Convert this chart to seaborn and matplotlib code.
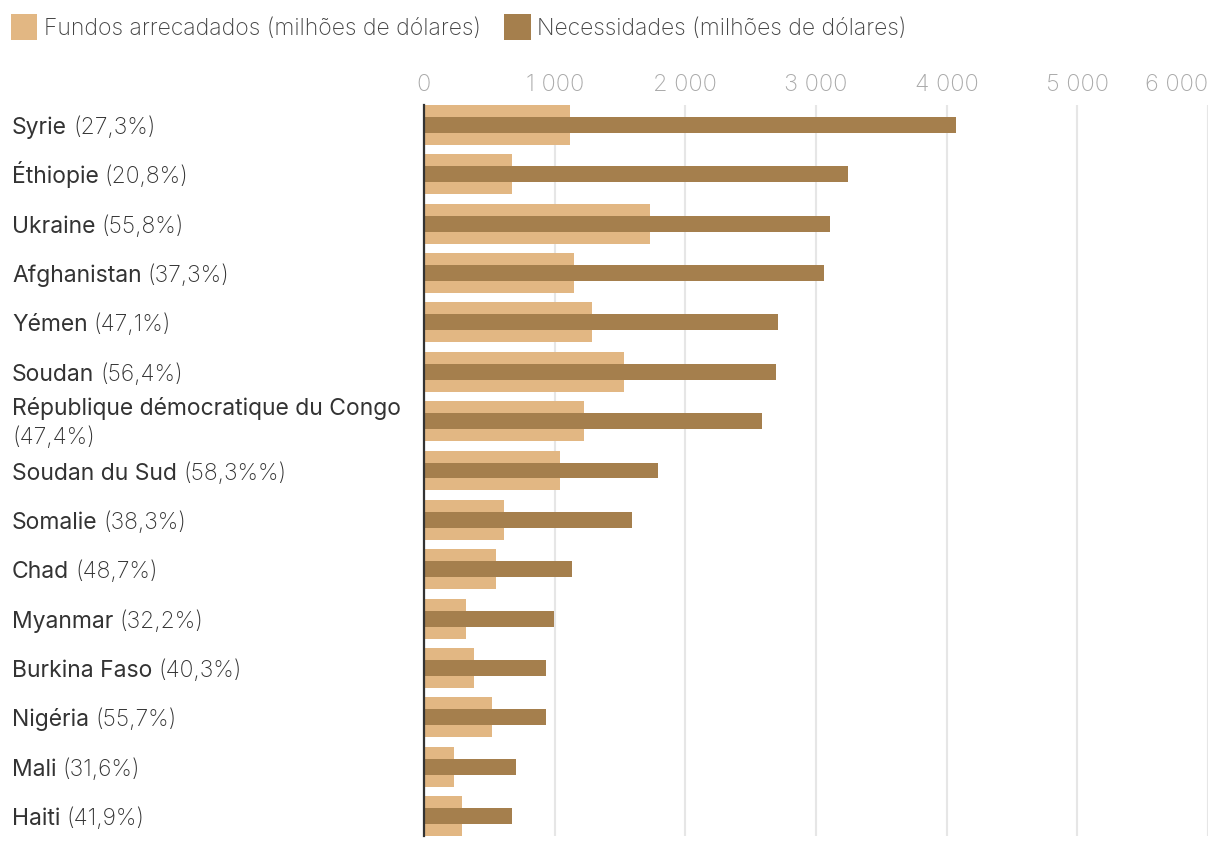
import pandas as pd
import seaborn as sns
import matplotlib.pyplot as plt
from matplotlib.patches import Patch

countries = ["Syrie", "Éthiopie", "Ukraine", "Afghanistan", "Yémen", "Soudan",
             "République démocratique du Congo", "Soudan du Sud", "Somalie",
             "Chad", "Myanmar", "Burkina Faso", "Nigéria", "Mali", "Haiti"]
pct_labels = ["(27,3%)", "(20,8%)", "(55,8%)", "(37,3%)", "(47,1%)", "(56,4%)",
              "(47,4%)", "(58,3%%)", "(38,3%)", "(48,7%)", "(32,2%)", "(40,3%)",
              "(55,7%)", "(31,6%)", "(41,9%)"]
funds = [1117, 673, 1730, 1148, 1286, 1531, 1224, 1041, 612, 551, 321, 383, 520, 230, 291]
needs = [4071, 3245, 3107, 3061, 2709, 2694, 2587, 1791, 1592, 1133, 995, 934, 934, 704, 673]
tick_values = [0, 1000, 2000, 3000, 4000, 5000, 6000]
tick_labels = ["0", "1 000", "2 000", "3 000", "4 000", "5 000", "6 000"]
legend_labels = ["Fundos arrecadados (milhões de dólares)", "Necessidades (milhões de dólares)"]

light = "#E2B783"
dark = "#A57F4D"
W, H = 1220, 848

sns.set_style("white")
plt.rcParams['font.family'] = ['Inter', 'DejaVu Sans']

df = pd.DataFrame({"country": countries, "funds": funds, "needs": needs})

fig = plt.figure(figsize=(W / 100, H / 100), dpi=100)
ax = fig.add_axes([424 / W, 12 / H, 784 / W, 731 / H])

sns.barplot(data=df, x="funds", y="country", color=light, width=0.81,
            saturation=1, linewidth=0, ax=ax, zorder=2)
sns.barplot(data=df, x="needs", y="country", color=dark, width=0.324,
            saturation=1, linewidth=0, ax=ax, zorder=3)

ax.set_xlim(0, 6000)
ax.set_ylim(len(countries) - 0.595, -0.405)
ax.set_xlabel("")
ax.set_ylabel("")
ax.set_yticks([])
ax.xaxis.tick_top()
ax.set_xticks(tick_values)
ax.set_xticklabels(tick_labels, fontsize=17, color="#aaaaaa", fontweight="light")
ax.get_xticklabels()[-1].set_ha("right")
ax.tick_params(axis="x", length=0, pad=6.5)
ax.grid(axis="x", color="#e6e6e6", linewidth=1.5)
ax.set_axisbelow(True)
for side in ["top", "right", "bottom"]:
    ax.spines[side].set_visible(False)
ax.spines["left"].set_color("#333333")
ax.spines["left"].set_linewidth(1.6)
ax.spines["left"].set_zorder(5)

# country labels: name regular, percentage light
fs = 16.5
fig.canvas.draw()
renderer = fig.canvas.get_renderer()
for i, (name, pct) in enumerate(zip(countries, pct_labels)):
    yc = ax.transData.transform((0, i))[1]
    if len(name) > 25:
        fig.text(12 / W, (yc + 6) / H, name, fontsize=fs, color="#333333",
                 va="baseline", ha="left")
        fig.text(12 / W, (yc - 23) / H, pct, fontsize=fs, color="#333333",
                 va="baseline", ha="left", fontweight="light")
    else:
        t = fig.text(12 / W, (yc - 9) / H, name, fontsize=fs, color="#333333",
                     va="baseline", ha="left")
        x1 = t.get_window_extent(renderer).x1
        fig.text((x1 + 6) / W, (yc - 9) / H, pct, fontsize=fs, color="#333333",
                 va="baseline", ha="left", fontweight="light")

handles = [Patch(facecolor=light, edgecolor="none"), Patch(facecolor=dark, edgecolor="none")]
leg = fig.legend(handles, legend_labels, loc="upper left", bbox_to_anchor=(11 / W, 1 - 14 / H),
                 ncol=2, frameon=False, fontsize=16.5, handlelength=1.15, handleheight=1.4,
                 handletextpad=0.3, columnspacing=1.0, borderaxespad=0, borderpad=0)
for txt in leg.get_texts():
    txt.set_color("#444444")
    txt.set_fontweight("light")

fig.savefig("out.png", dpi=100)
